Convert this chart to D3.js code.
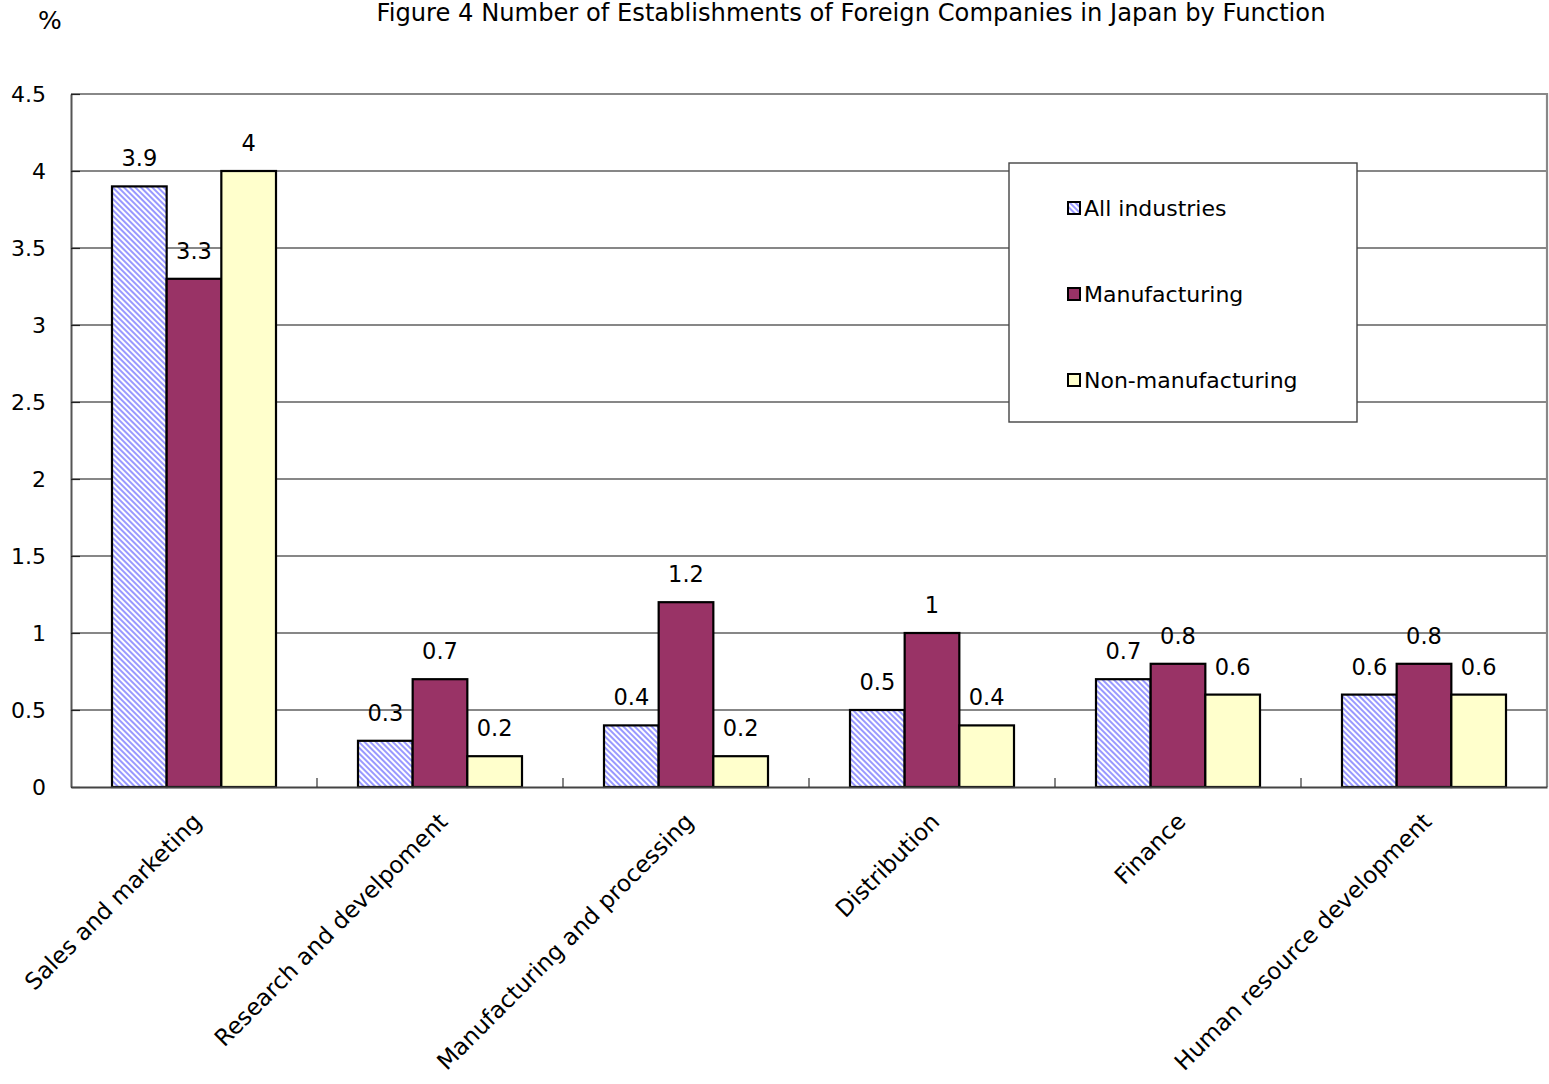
<!DOCTYPE html>
<html>
<head>
<meta charset="utf-8">
<script src="https://cdn.jsdelivr.net/npm/d3@7"></script>
<style>
  html, body { margin: 0; padding: 0; background: #fff; }
  svg { display: block; }
  text { font-family: "DejaVu Sans", "Noto Sans", sans-serif; fill: #000; }
</style>
</head>
<body>
<svg id="chart" width="1549" height="1084"></svg>
<script>
// Share of establishments (%) by function
const categories = ["Sales and marketing", "Research and develpoment", "Manufacturing and processing", "Distribution", "Finance", "Human resource development"];
const seriesNames = ["All industries", "Manufacturing", "Non-manufacturing"];
const allIndustries = [3.9, 0.3, 0.4, 0.5, 0.7, 0.6];
const manufacturing = [3.3, 0.7, 1.2, 1.0, 0.8, 0.8];
const nonManufacturing = [4.0, 0.2, 0.2, 0.4, 0.6, 0.6];
const yTicks = [0, 0.5, 1, 1.5, 2, 2.5, 3, 3.5, 4, 4.5];

const seriesValues = [allIndustries, manufacturing, nonManufacturing];
const fills = ["url(#hatch)", "#993366", "#FFFFCC"];
const FONT = '"DejaVu Sans", "Noto Sans", sans-serif';

const svg = d3.select("#chart");
const plotLeft = 71, plotRight = 1547, plotTop = 94, plotBottom = 787;

// diagonal hatch used by the "All industries" series
const defs = svg.append("defs");
const pat = defs.append("pattern")
  .attr("id", "hatch").attr("patternUnits", "userSpaceOnUse")
  .attr("width", 4).attr("height", 4)
  .attr("patternTransform", "rotate(-45)");
pat.append("rect").attr("width", 4).attr("height", 4).attr("fill", "#fff");
pat.append("rect").attr("width", 2).attr("height", 4).attr("fill", "#9999FF");

const x = d3.scaleBand().domain(categories).range([plotLeft, plotRight]).paddingInner(0).paddingOuter(0);
const inner = d3.scaleBand().domain(d3.range(3)).range([41, x.bandwidth() - 41]);
const y = d3.scaleLinear().domain([0, 4.5]).range([plotBottom, plotTop]);

// gridlines
svg.append("g").selectAll("line").data(yTicks.filter(t => t > 0 && t < 4.5)).join("line")
  .attr("x1", plotLeft).attr("x2", plotRight)
  .attr("y1", d => y(d)).attr("y2", d => y(d))
  .attr("stroke", "#111").attr("stroke-width", 1.2);

// plot frame: top and right
svg.append("path")
  .attr("d", `M${plotLeft},${y(4.5)}H${plotRight}V${plotBottom}`)
  .attr("fill", "none").attr("stroke", "#888").attr("stroke-width", 2.2);

// y axis
const yAxis = d3.axisLeft(y).tickValues(yTicks).tickSizeInner(-9).tickSizeOuter(0)
  .tickFormat(d => String(d));
const gy = svg.append("g").attr("transform", `translate(${plotLeft},0)`).call(yAxis);
gy.select(".domain").attr("stroke", "#555").attr("stroke-width", 2);
gy.selectAll(".tick line").attr("stroke", "#222").attr("stroke-width", 1.2);
gy.selectAll(".tick text").attr("font-size", 22).attr("x", -25).attr("dy", "0.36em")
  .style("font-family", FONT).attr("fill", "#000");

// bars
const groups = svg.append("g").selectAll("g").data(categories).join("g")
  .attr("transform", d => `translate(${x(d)},0)`);
groups.selectAll("rect").data((d, i) => seriesValues.map((s, k) => ({ k, v: s[i] }))).join("rect")
  .attr("x", d => inner(d.k)).attr("width", inner.bandwidth())
  .attr("y", d => y(d.v)).attr("height", d => plotBottom - y(d.v))
  .attr("fill", d => fills[d.k]).attr("stroke", "#000").attr("stroke-width", 2.2);

// value labels
groups.selectAll("text.val").data((d, i) => seriesValues.map((s, k) => ({ k, v: s[i] }))).join("text")
  .attr("class", "val")
  .attr("x", d => inner(d.k) + inner.bandwidth() / 2)
  .attr("y", d => y(d.v) - 20)
  .attr("text-anchor", "middle").attr("font-size", 22.5)
  .text(d => String(d.v));

// x axis (baseline with inward ticks between groups)
const xAxis = d3.axisBottom(x).tickSize(0).tickFormat("");
const gx = svg.append("g").attr("transform", `translate(0,${plotBottom})`).call(xAxis);
gx.select(".domain").attr("stroke", "#444").attr("stroke-width", 2.2);
svg.append("g").selectAll("line").data(categories.slice(1)).join("line")
  .attr("x1", d => x(d)).attr("x2", d => x(d))
  .attr("y1", plotBottom).attr("y2", plotBottom - 9)
  .attr("stroke", "#333").attr("stroke-width", 1.2);

// rotated category labels
svg.append("g").selectAll("text").data(categories).join("text")
  .attr("text-anchor", "end")
  .attr("font-size", 23.2)
  .attr("transform", d => `translate(${x(d) + x.bandwidth() / 2 + 9},${plotBottom + 36}) rotate(-45)`)
  .text(d => d);

// title and unit
svg.append("text").attr("x", 851).attr("y", 21).attr("text-anchor", "middle")
  .attr("font-size", 24.2).text("Figure 4 Number of Establishments of Foreign Companies in Japan by Function");
svg.append("text").attr("x", 50).attr("y", 29).attr("text-anchor", "middle")
  .attr("font-size", 25).text("%");

// legend
const lg = svg.append("g");
lg.append("rect").attr("x", 1009).attr("y", 163).attr("width", 348).attr("height", 259)
  .attr("fill", "#fff").attr("stroke", "#444").attr("stroke-width", 1.4);
const li = lg.selectAll("g").data(seriesNames).join("g")
  .attr("transform", (d, i) => `translate(1068,${208 + i * 86})`);
li.append("rect").attr("x", 0).attr("y", -6).attr("width", 12).attr("height", 12)
  .attr("fill", (d, i) => fills[i]).attr("stroke", "#000").attr("stroke-width", 2);
li.append("text").attr("x", 16).attr("y", 8).attr("font-size", 22).text(d => d);
</script>
</body>
</html>
